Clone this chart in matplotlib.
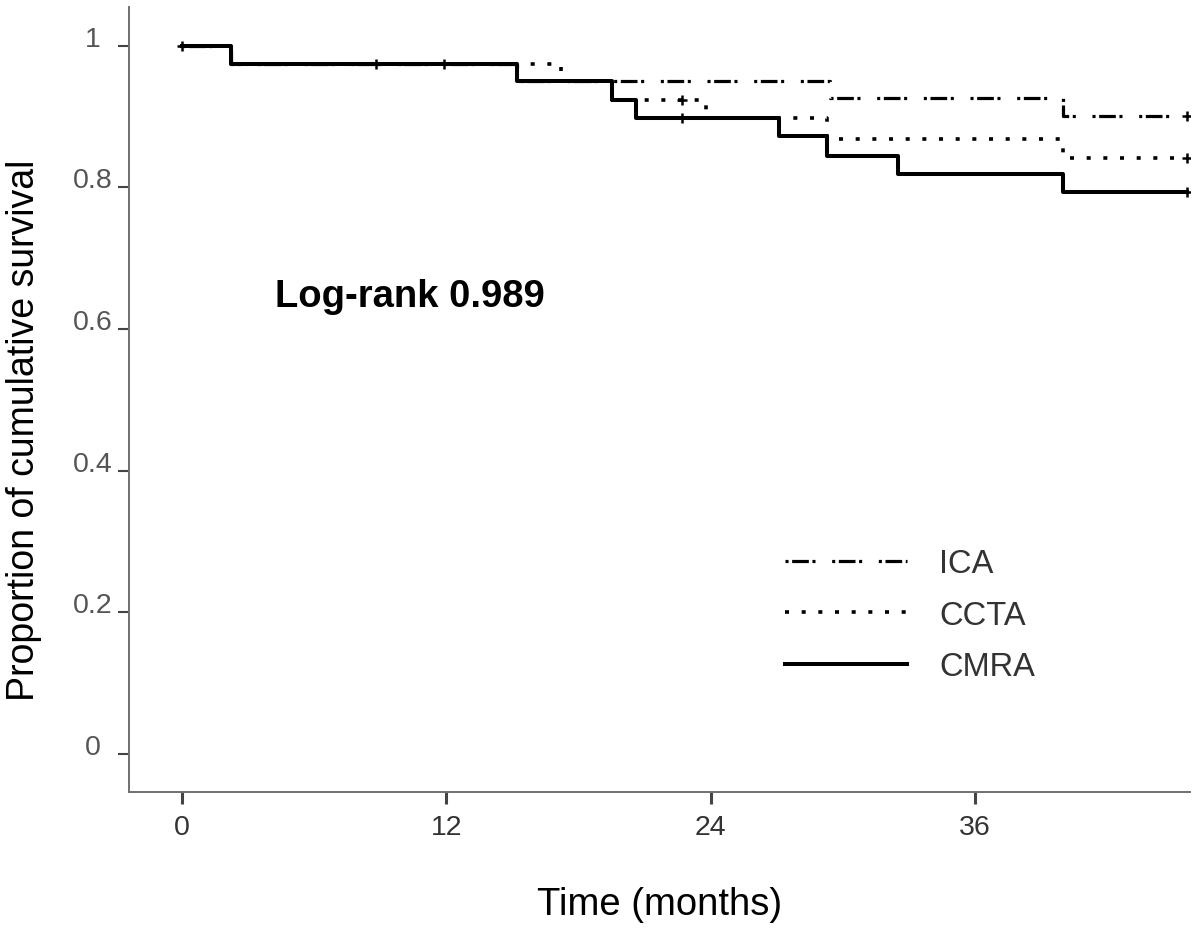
import numpy as np
import matplotlib.pyplot as plt

plt.rcParams['font.family'] = ['Liberation Sans', 'DejaVu Sans']
plt.rcParams['lines.scale_dashes'] = False

# Kaplan-Meier step data (time in months, survival)
ica_t = [0, 2.2, 15.2, 29.4, 40.0, 45.6]
ica_s = [1.0, 0.975, 0.951, 0.927, 0.901, 0.901]

ccta_t = [0, 2.2, 17.2, 19.5, 23.8, 29.3, 40.0, 45.6]
ccta_s = [1.0, 0.975, 0.951, 0.924, 0.898, 0.869, 0.842, 0.842]

cmra_t = [0, 2.2, 15.2, 19.5, 20.6, 27.1, 29.3, 32.5, 40.0, 45.6]
cmra_s = [1.0, 0.975, 0.951, 0.924, 0.898, 0.873, 0.845, 0.819, 0.794, 0.794]

# censored observations
cens_t = [0, 8.8, 11.9]
cens_s = [1.0, 0.975, 0.975]
ccta_cens_t = [22.7, 45.6]
ccta_cens_s = [0.924, 0.842]
cmra_cens_t = [22.7, 45.6]
cmra_cens_s = [0.898, 0.794]
ica_cens_t = [45.6]
ica_cens_s = [0.901]

xticks = [0, 12, 24, 36]
yticks = [0, 0.2, 0.4, 0.6, 0.8, 1]
yticklabels = ['0', '0.2', '0.4', '0.6', '0.8', '1']

fig = plt.figure(figsize=(12, 9.29), dpi=100)
ax = fig.add_axes([0.1075, 0.1464, 0.8842, 0.845])

ica_style = (0, (2.2, 2.6, 12, 2.6, 2.2, 12))
ccta_style = (0, (2.9, 9.1))

l_ica, = ax.step(ica_t, ica_s, where='post', color='black', lw=2.3,
                 linestyle=ica_style, dash_capstyle='butt', label='ICA')
l_ccta, = ax.step(ccta_t, ccta_s, where='post', color='black', lw=2.6,
                  linestyle=ccta_style, dash_capstyle='butt', label='CCTA')
l_cmra, = ax.step(cmra_t, cmra_s, where='post', color='black', lw=2.9,
                  label='CMRA')

mk = dict(marker='+', ms=7, mew=1.8, color='black', linestyle='none')
ax.plot(cens_t, cens_s, **mk)
ax.plot(ccta_cens_t, ccta_cens_s, **mk)
ax.plot(cmra_cens_t, cmra_cens_s, **mk)
ax.plot(ica_cens_t, ica_cens_s, **mk)

ax.text(4.2, 0.647, 'Log-rank 0.989', fontsize=27.5, fontweight='bold',
        ha='left', va='center')

ax.set_xlim(-2.41, 45.76)
ax.set_ylim(-0.054, 1.055)

ax.set_xticks(xticks)
ax.set_yticks(yticks)
ax.set_yticklabels(yticklabels)
for lab in ax.get_yticklabels():
    lab.set_va('baseline')
    lab.set_ha('center')

ax.tick_params(axis='x', direction='out', length=8.5, width=2.2,
               color='#444444', labelsize=20.5, labelcolor='#333333', pad=7)
ax.tick_params(axis='y', direction='out', length=8, width=1.5,
               color='#444444', labelsize=20.5, labelcolor='#555555', pad=18)

for side in ['top', 'right']:
    ax.spines[side].set_visible(False)
for side in ['left', 'bottom']:
    ax.spines[side].set_color('#707070')
    ax.spines[side].set_linewidth(1.4)

ax.set_xlabel('Time (months)', fontsize=27.5)
ax.set_ylabel('Proportion of cumulative survival', fontsize=27)
ax.xaxis.set_label_coords(0.5, -0.143)
ax.xaxis.label.set_va('center')
ax.yaxis.set_label_coords(-0.099, 0.462)
ax.yaxis.label.set_va('center')

ax.legend(handles=[l_ica, l_ccta, l_cmra], loc='center left',
          bbox_to_anchor=(0.618, 0.225), frameon=False, fontsize=23.5,
          handlelength=3.75, handletextpad=0.98, labelspacing=0.63,
          borderpad=0, borderaxespad=0, labelcolor='#333333')

fig.savefig('out.png', dpi=100, facecolor='white')
